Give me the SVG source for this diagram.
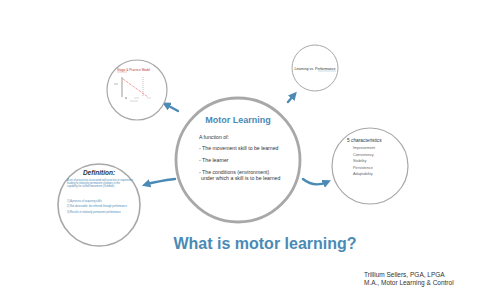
<svg xmlns="http://www.w3.org/2000/svg" width="480" height="300" viewBox="0 0 480 300">
<defs>
<style>
.ring{fill:#fff;stroke:#a8a8a8}
.conn{fill:none;stroke:#4a8ab5;stroke-width:2.4;stroke-linecap:round}
.t{font-family:"Liberation Sans",Arial,sans-serif}
.dark{fill:#333}
.gray{fill:#666}
.blue{fill:#4a8ab5}
</style>
<marker id="ah" viewBox="0 0 10 10" refX="5" refY="5" markerWidth="3.6" markerHeight="3.6" orient="auto" markerUnits="strokeWidth">
<path d="M0,0 L10,5 L0,10 Z" fill="#4a8ab5"/>
</marker>
</defs>
<rect width="480" height="300" fill="#fff"/>
<g id="connectors">
<path class="conn" d="M178,111 L166,104.5" marker-end="url(#ah)"/>
<path class="conn" d="M288,102 L294,95" marker-end="url(#ah)"/>
<path class="conn" d="M303,179 Q314,188 327,182" marker-end="url(#ah)"/>
<path class="conn" d="M175,179 Q158,181 146,184.5" marker-end="url(#ah)"/>
</g>
<g id="main">
<circle class="ring" cx="238" cy="160" r="62" stroke-width="2.8"/>
<text class="t blue" x="238" y="123" font-size="9" font-weight="bold" text-anchor="middle">Motor Learning</text>
<text class="t dark" font-size="5.2">
<tspan x="199" y="139">A function of:</tspan>
<tspan x="199" y="150">- The movement skill to be learned</tspan>
<tspan x="199" y="162">- The learner</tspan>
<tspan x="199" y="174">- The conditions (environment)</tspan>
<tspan x="201" y="180">under which a skill is to be learned</tspan>
</text>
</g>
<g id="stage-model">
<circle class="ring" cx="137" cy="90" r="30" stroke-width="1.2"/>
<text class="t" x="117" y="71" font-size="3.2" fill="#c0392b">Stage &amp; Practice Model</text>
<line x1="117" y1="72" x2="127" y2="72" stroke="#c0392b" stroke-width="0.3"/>
<line x1="122" y1="77" x2="122" y2="97" stroke="#555" stroke-width="0.6"/>
<line x1="143" y1="77" x2="143" y2="97" stroke="#555" stroke-width="0.4" stroke-dasharray="1,1"/>
<line x1="123" y1="79" x2="148" y2="97" stroke="#e33" stroke-width="0.8" stroke-dasharray="0.8,1"/>
<line x1="114" y1="84" x2="118" y2="84" stroke="#777" stroke-width="0.5"/>
<line x1="125" y1="98" x2="127" y2="98" stroke="#333" stroke-width="0.6"/>
<line x1="134" y1="98" x2="139" y2="98" stroke="#999" stroke-width="0.4"/>
<line x1="147" y1="98" x2="151" y2="98" stroke="#aab" stroke-width="0.4"/>
<line x1="130" y1="101" x2="138" y2="101" stroke="#999" stroke-width="0.4"/>
</g>
<g id="learning-vs-performance">
<circle class="ring" cx="315" cy="68" r="23" stroke-width="1"/>
<text class="t dark" x="315" y="70" font-size="3.6" text-anchor="middle">Learning vs. Performance</text>
<line x1="318" y1="71" x2="336" y2="71" stroke="#7ab" stroke-width="0.4"/>
</g>
<g id="characteristics">
<circle class="ring" cx="370" cy="166" r="38" stroke-width="1.2"/>
<text class="t dark" x="347" y="142" font-size="4.8">5 characteristics</text>
<text class="t gray" font-size="3.8">
<tspan x="353" y="149">Improvement</tspan>
<tspan x="353" y="155.5">Consistency</tspan>
<tspan x="353" y="162">Stability</tspan>
<tspan x="353" y="168.5">Persistence</tspan>
<tspan x="353" y="175">Adaptability</tspan>
</text>
</g>
<g id="definition">
<circle class="ring" cx="99" cy="205" r="41" stroke-width="1.6"/>
<text class="t dark" x="99" y="175" font-size="6.5" font-weight="bold" font-style="italic" text-anchor="middle">Definition:</text>
<text class="t blue" font-size="2.6">
<tspan x="67" y="181">A set of processes associated with practice or experience</tspan>
<tspan x="67" y="184">leading to relatively permanent changes in the</tspan>
<tspan x="67" y="187">capability for skilled movement (Schmidt).</tspan>
<tspan x="67" y="202">1) A process of acquiring skills</tspan>
<tspan x="67" y="207">2) Not observable, but inferred through performance</tspan>
<tspan x="67" y="212.5">3) Results in relatively permanent performance</tspan>
</text>
</g>
<g id="title">
<text class="t blue" x="265" y="249" font-size="16" font-weight="bold" text-anchor="middle">What is motor learning?</text>
</g>
<g id="author">
<text class="t dark" font-size="6.5">
<tspan x="364" y="277">Trillium Sellers, PGA, LPGA</tspan>
<tspan x="364" y="285">M.A., Motor Learning &amp; Control</tspan>
</text>
</g>
</svg>
